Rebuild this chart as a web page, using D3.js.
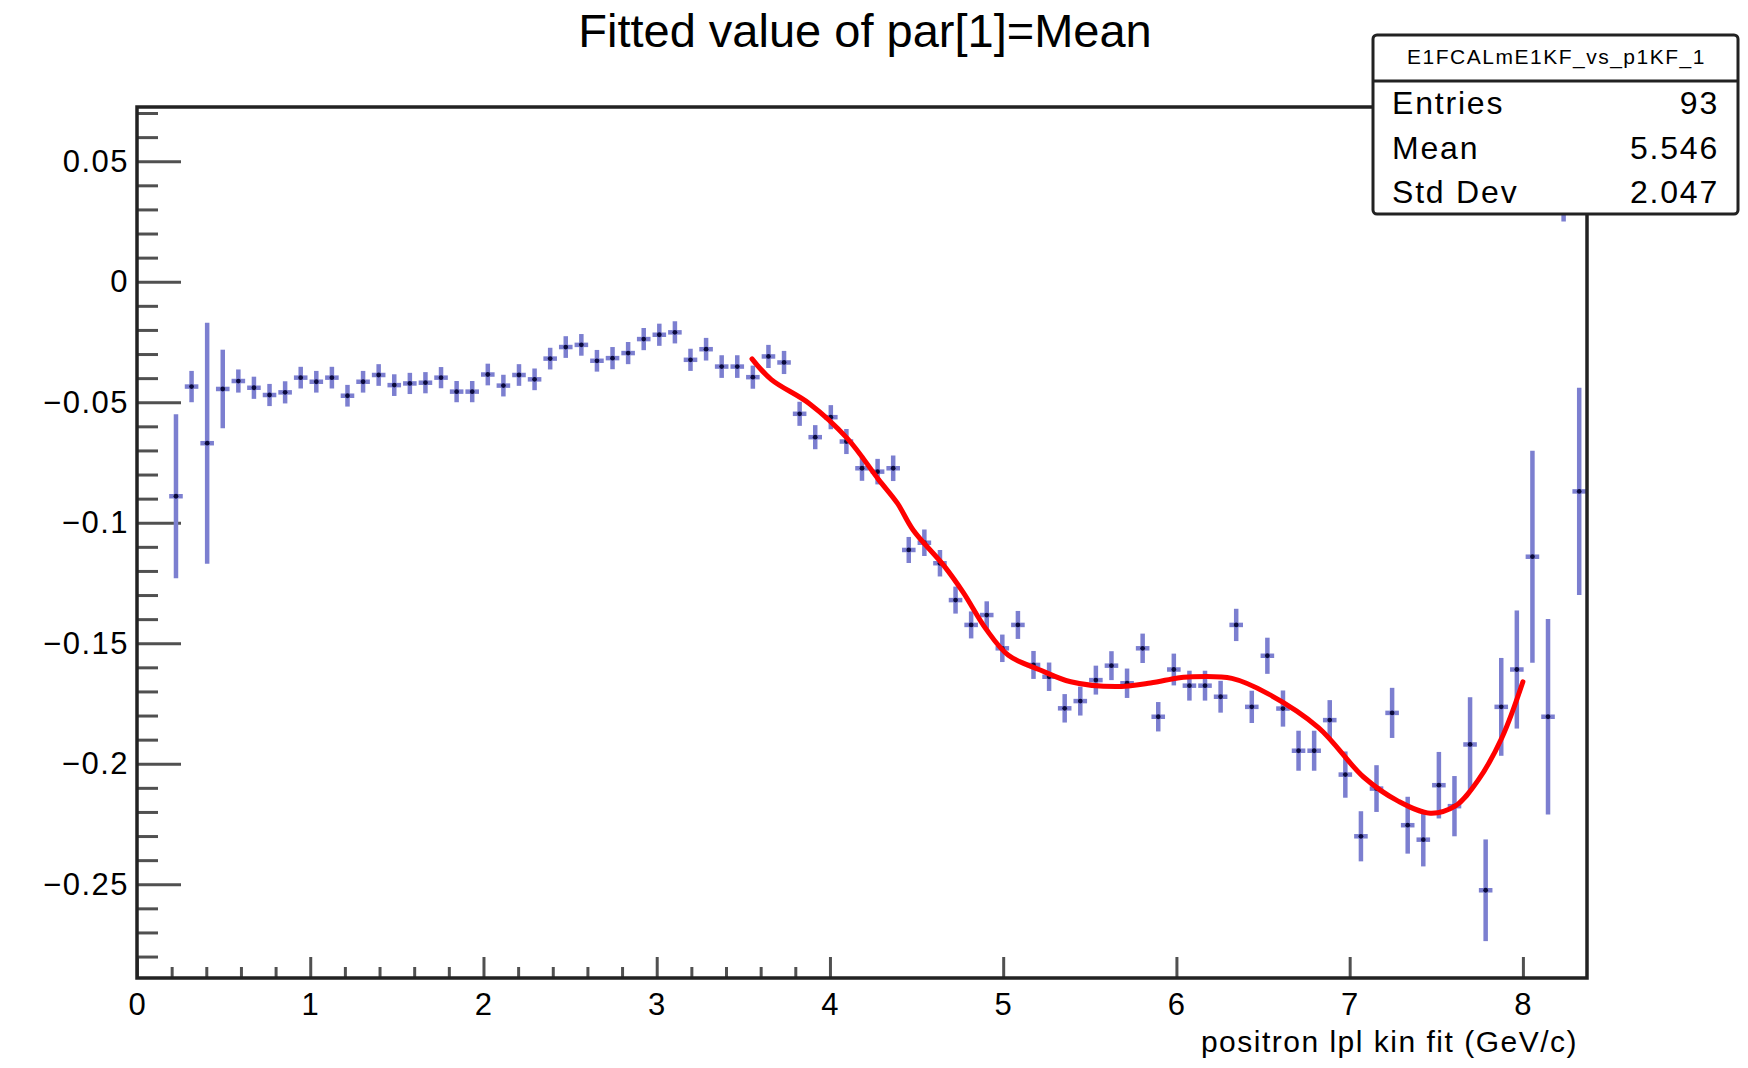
<!DOCTYPE html>
<html><head><meta charset="utf-8">
<script src="https://cdn.jsdelivr.net/npm/d3@7"></script>
<style>
body{margin:0;background:#fff}
svg{display:block;background:#fff}
text{font-family:"Liberation Sans",Arial,Helvetica,sans-serif;fill:#000}
</style>
</head><body>
<svg id="c" width="1748" height="1068"></svg>
<script>
// ---- data ----
const binCenters = [0.225,0.315,0.405,0.495,0.585,0.675,0.765,0.855,0.945,1.035,1.125,1.215,1.305,1.395,1.485,1.575,1.665,1.755,1.845,1.935,
2.025,2.115,2.205,2.295,2.385,2.475,2.565,2.655,2.745,2.835,2.925,3.015,3.105,3.195,3.285,3.375,3.465,3.555,3.645,3.735,
3.825,3.915,4.005,4.095,4.185,4.275,4.365,4.455,4.545,4.635,4.725,4.815,4.905,4.995,5.085,5.175,5.265,5.355,5.445,5.535,
5.625,5.715,5.805,5.895,5.985,6.075,6.165,6.255,6.345,6.435,6.525,6.615,6.705,6.795,6.885,6.975,7.065,7.155,7.245,7.335,
7.425,7.515,7.605,7.695,7.785,7.875,7.965,8.055,8.145,8.235,8.325];
const meanValues = [-0.089,-0.0435,-0.067,-0.0445,-0.0412,-0.0440,-0.0470,-0.0459,-0.0398,-0.0415,-0.0398,-0.0473,-0.0415,-0.0387,-0.0429,-0.0422,-0.0419,-0.0398,-0.0456,-0.0456,
-0.0385,-0.0431,-0.0387,-0.0405,-0.0319,-0.0271,-0.0262,-0.0328,-0.0317,-0.0296,-0.0238,-0.0220,-0.0210,-0.0324,-0.0280,-0.0352,-0.0352,-0.0396,-0.0310,-0.0335,
-0.0548,-0.0645,-0.0562,-0.0663,-0.0774,-0.0788,-0.0774,-0.1113,-0.1083,-0.1168,-0.1321,-0.1424,-0.1383,-0.1521,-0.1424,-0.1590,-0.1639,-0.1770,-0.1740,-0.1653,
-0.1593,-0.1666,-0.1521,-0.1805,-0.1609,-0.1676,-0.1676,-0.1722,-0.1424,-0.1764,-0.1552,-0.1771,-0.1946,-0.1946,-0.1819,-0.2045,-0.2301,-0.2103,-0.1789,-0.2255,
-0.2315,-0.2089,-0.2176,-0.1920,-0.2525,-0.1764,-0.1609,-0.1141,-0.1805,0.060,-0.087];
const meanErrors = [0.034,0.0065,0.050,0.0163,0.0048,0.0046,0.0046,0.0046,0.0045,0.0045,0.0045,0.0045,0.0045,0.0045,0.0045,0.0044,0.0044,0.0044,0.0044,0.0044,
0.0045,0.0045,0.0045,0.0045,0.0045,0.0045,0.0045,0.0045,0.0046,0.0046,0.0046,0.0046,0.0046,0.0046,0.0047,0.0047,0.0047,0.0048,0.0048,0.0048,
0.0050,0.0050,0.0050,0.0052,0.0052,0.0053,0.0053,0.0054,0.0055,0.0055,0.0056,0.0056,0.0057,0.0057,0.0058,0.0058,0.0059,0.0059,0.0060,0.0060,
0.0060,0.0061,0.0061,0.0061,0.0066,0.0062,0.0062,0.0066,0.0067,0.0067,0.0075,0.0075,0.0083,0.0083,0.0083,0.0096,0.0104,0.0097,0.0104,0.0118,
0.0111,0.0138,0.0125,0.0196,0.0211,0.0203,0.0245,0.0440,0.0406,0.035,0.043];
const binHalfWidth = 0.045;

const fitX = [3.55,3.66,3.88,4.10,4.28,4.39,4.48,4.66,4.77,4.90,5.03,5.21,5.39,5.65,5.85,6.00,6.07,6.32,6.53,6.82,7.08,7.28,7.465,7.61,7.74,7.88,8.00];
const fitY = [-0.032,-0.0405,-0.0505,-0.065,-0.082,-0.092,-0.103,-0.118,-0.129,-0.144,-0.155,-0.161,-0.166,-0.168,-0.1665,-0.1645,-0.164,-0.1646,-0.171,-0.185,-0.2055,-0.2155,-0.2205,-0.2175,-0.207,-0.189,-0.166];

const xTickValues = [0,1,2,3,4,5,6,7,8];
const xTickLabels = ["0","1","2","3","4","5","6","7","8"];
const yTickValues = [0.05,0,-0.05,-0.1,-0.15,-0.2,-0.25];
const yTickLabels = ["0.05","0","\u22120.05","\u22120.1","\u22120.15","\u22120.2","\u22120.25"];

const titleText = "Fitted value of par[1]=Mean";
const xAxisTitle = "positron lpl kin fit (GeV/c)";
const statsName = "E1FCALmE1KF_vs_p1KF_1";
const statsLabels = ["Entries","Mean","Std Dev"];
const statsValues = ["93","5.546","2.047"];

// ---- layout ----
const frame = {left:137, right:1587, top:107, bottom:978};
const svg = d3.select("#c");
const x = d3.scaleLinear().domain([0, 8.37]).range([frame.left, frame.right]);
const y = d3.scaleLinear().domain([-0.2889, 0.0725]).range([frame.bottom, frame.top]);

const tickColor = "#505050";

// clip
svg.append("defs").append("clipPath").attr("id","clip")
  .append("rect").attr("x",frame.left).attr("y",frame.top)
  .attr("width",frame.right-frame.left).attr("height",frame.bottom-frame.top);

// minor ticks
const yMinor = d3.range(-28,8).map(d=>d/100).filter(v=>Math.abs(Math.round(v*100)%5)!==0);
const xMinor = d3.range(0,42,2).map(d=>d/10).filter(v=>Math.abs(v-Math.round(v))>1e-6);

const gyMinor = svg.append("g").attr("transform",`translate(${frame.left},0)`)
  .call(d3.axisLeft(y).tickValues(yMinor).tickSize(-21).tickFormat(""));
const gyMajor = svg.append("g").attr("transform",`translate(${frame.left},0)`)
  .call(d3.axisLeft(y).tickValues(yTickValues).tickSize(-44).tickPadding(8)
    .tickFormat((d,i)=>yTickLabels[i]));
const gxMinor = svg.append("g").attr("transform",`translate(0,${frame.bottom})`)
  .call(d3.axisBottom(x).tickValues(xMinor).tickSize(-11).tickFormat(""));
const gxMajor = svg.append("g").attr("transform",`translate(0,${frame.bottom})`)
  .call(d3.axisBottom(x).tickValues(xTickValues).tickSize(-21).tickPadding(15)
    .tickFormat((d,i)=>xTickLabels[i]));

[gyMinor,gyMajor,gxMinor,gxMajor].forEach(g=>{
  g.select(".domain").remove();
  g.selectAll(".tick line").attr("stroke",tickColor).attr("stroke-width",3);
  g.selectAll("text").attr("font-size",31).attr("fill","#000")
    .style("font-family",'"Liberation Sans",Arial,sans-serif');
});
gyMajor.selectAll("text").attr("letter-spacing","1.5px");
gxMajor.selectAll("text").attr("letter-spacing","1px");

// data points
const pts = binCenters.map((c,i)=>({x:c, v:meanValues[i], e:meanErrors[i]}));
const gData = svg.append("g").attr("clip-path","url(#clip)");
const barColor = "#7c7fd0";
gData.selectAll("line.ev").data(pts).join("line").attr("class","ev")
  .attr("x1",d=>x(d.x)).attr("x2",d=>x(d.x))
  .attr("y1",d=>y(d.v+d.e)).attr("y2",d=>y(d.v-d.e))
  .attr("stroke",barColor).attr("stroke-width",4.5);
gData.selectAll("line.eh").data(pts).join("line").attr("class","eh")
  .attr("x1",d=>x(d.x-binHalfWidth)+1).attr("x2",d=>x(d.x+binHalfWidth)-1)
  .attr("y1",d=>y(d.v)).attr("y2",d=>y(d.v))
  .attr("stroke",barColor).attr("stroke-width",4.5);
gData.selectAll("circle").data(pts).join("circle")
  .attr("cx",d=>x(d.x)).attr("cy",d=>y(d.v)).attr("r",2.4)
  .attr("fill","#0a0a3c");

// fit curve
const fitPts = fitX.map((fx,i)=>[fx,fitY[i]]);
gData.append("path").datum(fitPts)
  .attr("d",d3.line().x(d=>x(d[0])).y(d=>y(d[1])).curve(d3.curveCatmullRom.alpha(0.5)))
  .attr("fill","none").attr("stroke","#ff0000").attr("stroke-width",5)
  .attr("stroke-linejoin","round").attr("stroke-linecap","round");

// frame
svg.append("rect").attr("x",frame.left).attr("y",frame.top)
  .attr("width",frame.right-frame.left).attr("height",frame.bottom-frame.top)
  .attr("fill","none").attr("stroke","#222").attr("stroke-width",3.5);

// title
svg.append("text").attr("x",865).attr("y",47).attr("text-anchor","middle")
  .attr("font-size",47).text(titleText);

// x axis title
svg.append("text").attr("x",1578).attr("y",1052).attr("text-anchor","end")
  .attr("font-size",30).attr("letter-spacing","1.5px").text(xAxisTitle);

// stats box
const sb = {x:1373, y:35, w:365, h:179, div:81};
const gs = svg.append("g");
gs.append("rect").attr("x",sb.x).attr("y",sb.y).attr("width",sb.w).attr("height",sb.h)
  .attr("rx",4).attr("fill","#fff").attr("stroke","#222").attr("stroke-width",3);
gs.append("line").attr("x1",sb.x).attr("x2",sb.x+sb.w).attr("y1",sb.div).attr("y2",sb.div)
  .attr("stroke","#222").attr("stroke-width",3);
gs.append("text").attr("x",sb.x+sb.w/2+1).attr("y",64).attr("text-anchor","middle")
  .attr("font-size",21).attr("letter-spacing","1.5px").text(statsName);
const rowY = [114,159,203];
gs.selectAll("text.lab").data(statsLabels).join("text").attr("class","lab")
  .attr("x",1392).attr("y",(d,i)=>rowY[i]).attr("font-size",32)
  .attr("letter-spacing","1.8px").text(d=>d);
gs.selectAll("text.val").data(statsValues).join("text").attr("class","val")
  .attr("x",1719).attr("y",(d,i)=>rowY[i]).attr("font-size",32).attr("text-anchor","end")
  .attr("letter-spacing","1.8px").text(d=>d);
</script>
</body></html>
